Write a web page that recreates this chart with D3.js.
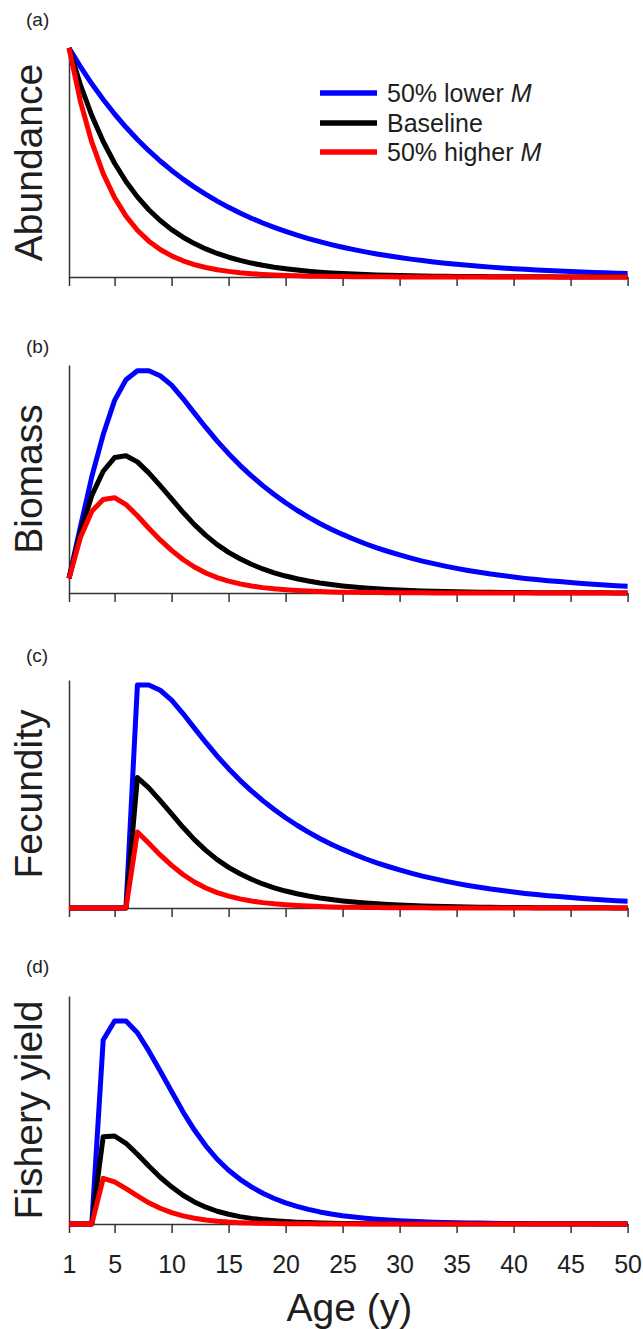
<!DOCTYPE html>
<html>
<head>
<meta charset="utf-8">
<script src="https://cdn.jsdelivr.net/npm/d3@7"></script>
<style>
  html, body { margin: 0; padding: 0; background: #fff; }
  svg { display: block; }
  text { font-family: "Liberation Sans", Arial, Helvetica, sans-serif; fill: #1e1e1e; }
</style>
</head>
<body>
<div id="chart"></div>
<script>
// ---------------- DATA ----------------
const ages = [1,2,3,4,5,6,7,8,9,10,11,12,13,14,15,16,17,18,19,20,21,22,23,24,25,26,27,28,29,30,31,32,33,34,35,36,37,38,39,40,41,42,43,44,45,46,47,48,49,50];
const xTicks = [1,5,10,15,20,25,30,35,40,45,50];
const seriesNames = ["50% lower ", "Baseline", "50% higher "];
const seriesColors = ["#0000ff", "#000000", "#ff0000"];

// (a) Abundance
const abundLow = [1,0.9185,0.8437,0.7749,0.7118,0.6538,0.6005,0.5516,0.5066,0.4653,0.4274,0.3926,0.3606,0.3312,0.3042,0.2794,0.2567,0.2357,0.2165,0.1989,0.1827,0.1678,0.1541,0.1415,0.1300,0.1194,0.1097,0.1007,0.0925,0.0850,0.0781,0.0717,0.0659,0.0605,0.0556,0.0510,0.0469,0.0431,0.0396,0.0363,0.0334,0.0307,0.0282,0.0259,0.0238,0.0218,0.0200,0.0184,0.0169,0.0155];
const abundBase = [1,0.8395,0.7047,0.5916,0.4966,0.4169,0.3499,0.2938,0.2466,0.2070,0.1738,0.1459,0.1225,0.1028,0.0863,0.0724,0.0608,0.0510,0.0429,0.0360,0.0302,0.0254,0.0213,0.0179,0.0150,0.0126,0.0106,0.0089,0.0074,0.0062,0.0052,0.0044,0.0037,0.0031,0.0026,0.0022,0.0018,0.0015,0.0013,0.0011,0.0009,0.0008,0.0006,0.0005,0.0004,0.0004,0.0003,0.0003,0.0002,0.0002];
const abundHigh = [1,0.7672,0.5886,0.4516,0.3465,0.2658,0.2039,0.1565,0.1200,0.0921,0.0707,0.0542,0.0416,0.0319,0.0245,0.0188,0.0144,0.0110,0.0085,0.0065,0.0050,0.0038,0.0029,0.0023,0.0017,0.0013,0.0010,0.0008,0.0006,0.0005,0.0004,0.0003,0.0002,0.0002,0.0001,0.0001,0.0001,0.0001,0,0,0,0,0,0,0,0,0,0,0,0];

// (b) Biomass
const biomassLow = [0.064,0.29,0.51,0.695,0.845,0.935,0.975,0.975,0.953,0.912,0.853,0.789,0.726,0.666,0.611,0.560,0.514,0.471,0.432,0.396,0.363,0.333,0.305,0.280,0.257,0.236,0.216,0.198,0.182,0.167,0.153,0.140,0.129,0.118,0.108,0.099,0.091,0.083,0.077,0.070,0.064,0.059,0.054,0.050,0.046,0.042,0.038,0.035,0.032,0.030];
const biomassBase = [0.064,0.266,0.428,0.534,0.594,0.602,0.575,0.527,0.471,0.413,0.354,0.300,0.253,0.212,0.178,0.150,0.126,0.1055,0.0886,0.0744,0.0624,0.0524,0.0440,0.0370,0.0311,0.0261,0.0219,0.0184,0.0155,0.0130,0.0109,0.0092,0.0077,0.0065,0.0054,0.0046,0.0038,0.0032,0.0027,0.0023,0.0019,0.0016,0.0013,0.0011,0.0009,0.0008,0.0007,0.0006,0.0005,0.0004];
const biomassHigh = [0.064,0.243,0.359,0.410,0.418,0.388,0.339,0.284,0.233,0.187,0.147,0.114,0.0878,0.0676,0.0520,0.0400,0.0307,0.0236,0.0182,0.0140,0.0107,0.0083,0.0063,0.0049,0.0038,0.0029,0.0022,0.0017,0.0013,0.0010,0.0008,0.0006,0.0005,0.0004,0.0003,0.0002,0.0002,0.0001,0.0001,0.0001,0,0,0,0,0,0,0,0,0,0];

// (c) Fecundity
const fecLow = [0,0,0,0,0,0,0.978,0.978,0.955,0.912,0.853,0.789,0.726,0.666,0.611,0.560,0.514,0.471,0.432,0.396,0.363,0.333,0.305,0.280,0.257,0.236,0.216,0.198,0.182,0.167,0.153,0.140,0.129,0.118,0.108,0.099,0.091,0.083,0.077,0.070,0.064,0.059,0.054,0.050,0.046,0.042,0.038,0.035,0.032,0.030];
const fecBase = [0,0,0,0,0,0,0.572,0.527,0.471,0.413,0.354,0.300,0.253,0.212,0.178,0.150,0.126,0.1055,0.0886,0.0744,0.0624,0.0524,0.0440,0.0370,0.0311,0.0261,0.0219,0.0184,0.0155,0.0130,0.0109,0.0092,0.0077,0.0065,0.0054,0.0046,0.0038,0.0032,0.0027,0.0023,0.0019,0.0016,0.0013,0.0011,0.0009,0.0008,0.0007,0.0006,0.0005,0.0004];
const fecHigh = [0,0,0,0,0,0,0.333,0.284,0.233,0.187,0.147,0.114,0.0878,0.0676,0.0520,0.0400,0.0307,0.0236,0.0182,0.0140,0.0107,0.0083,0.0063,0.0049,0.0038,0.0029,0.0022,0.0017,0.0013,0.0010,0.0008,0.0006,0.0005,0.0004,0.0003,0.0002,0.0002,0.0001,0.0001,0.0001,0,0,0,0,0,0,0,0,0,0];

// (d) Fishery yield
const yieldLow = [0,0,0,0.807,0.890,0.890,0.839,0.759,0.671,0.581,0.492,0.412,0.343,0.284,0.236,0.196,0.163,0.135,0.112,0.0928,0.0770,0.0639,0.0530,0.0440,0.0365,0.0304,0.0252,0.0209,0.0173,0.0144,0.0119,0.0099,0.0082,0.0068,0.0056,0.0047,0.0039,0.0032,0.0027,0.0022,0.0018,0.0015,0.0012,0.0010,0.0008,0.0007,0.0006,0.0005,0.0004,0.0003];
const yieldBase = [0,0,0,0.383,0.386,0.354,0.306,0.254,0.205,0.163,0.126,0.0968,0.0738,0.0560,0.0426,0.0324,0.0247,0.0187,0.0142,0.0108,0.0082,0.0062,0.0047,0.0036,0.0027,0.0021,0.0016,0.0012,0.0009,0.0007,0.0005,0.0004,0.0003,0.0002,0.0002,0.0001,0.0001,0.0001,0,0,0,0,0,0,0,0,0,0,0,0];
const yieldHigh = [0,0,0,0.200,0.185,0.155,0.123,0.093,0.069,0.050,0.0356,0.0250,0.0174,0.0121,0.0084,0.0059,0.0041,0.0028,0.0019,0.0013,0.0009,0.0006,0.0004,0.0003,0.0002,0.0001,0.0001,0,0,0,0,0,0,0,0,0,0,0,0,0,0,0,0,0,0,0,0,0,0,0];

const panelLetters = ["(a)", "(b)", "(c)", "(d)"];
const panelTitles = ["Abundance", "Biomass", "Fecundity", "Fishery yield"];
const panelData = [
  [abundLow, abundBase, abundHigh],
  [biomassLow, biomassBase, biomassHigh],
  [fecLow, fecBase, fecHigh],
  [yieldLow, yieldBase, yieldHigh]
];

// ---------------- LAYOUT ----------------
const W = 643, H = 1329;
const layout = [
  {top: 48,  bottom: 277,  letterY: 26},
  {top: 365, bottom: 593,  letterY: 353},
  {top: 680, bottom: 908,  letterY: 662},
  {top: 996, bottom: 1224, letterY: 973}
];

const svg = d3.select("#chart").append("svg")
  .attr("width", W).attr("height", H);

const x = d3.scaleLinear().domain([1, 50]).range([69, 627.6]);
const axisColor = "#333";

panelData.forEach((series, pi) => {
  const L = layout[pi];
  const y = d3.scaleLinear().domain([0, 1]).range([L.bottom, L.top]);
  const g = svg.append("g");

  // y axis line (no ticks)
  const yAxis = d3.axisLeft(y).tickValues([]).tickSizeOuter(0);
  g.append("g").attr("transform", `translate(${x(1)},0)`).call(yAxis)
    .call(s => s.select(".domain").attr("stroke", axisColor).attr("stroke-width", 1.5));

  // x axis
  const isLast = pi === panelData.length - 1;
  const xAxis = d3.axisBottom(x).tickValues(xTicks).tickSize(9).tickSizeOuter(0)
    .tickFormat(isLast ? d3.format("d") : () => "");
  const xg = g.append("g").attr("transform", `translate(0,${L.bottom})`).call(xAxis);
  xg.select(".domain").attr("stroke", axisColor).attr("stroke-width", 1.5);
  xg.selectAll(".tick line").attr("stroke", axisColor).attr("stroke-width", 1.5);
  xg.selectAll(".tick text")
    .attr("font-size", 25).attr("fill", "#222").attr("dy", 0).attr("y", 49)
    .style("font-family", '"Liberation Sans", Arial, Helvetica, sans-serif');

  // lines
  const line = d3.line()
    .x((d, i) => x(ages[i]))
    .y(d => y(d));
  series.forEach((vals, si) => {
    g.append("path")
      .datum(vals)
      .attr("d", line)
      .attr("fill", "none")
      .attr("stroke", seriesColors[si])
      .attr("stroke-width", 5)
      .attr("stroke-linejoin", "round");
  });

  // y label
  g.append("text")
    .attr("transform", `translate(42,${(L.top + L.bottom) / 2}) rotate(-90)`)
    .attr("text-anchor", "middle")
    .attr("font-size", 39)
    .text(panelTitles[pi]);

  // panel letter
  g.append("text")
    .attr("x", 26).attr("y", L.letterY)
    .attr("font-size", 19)
    .text(panelLetters[pi]);
});

// x axis title
svg.append("text")
  .attr("x", (x(1) + x(50)) / 2 + 1)
  .attr("y", 1321)
  .attr("text-anchor", "middle")
  .attr("font-size", 39)
  .text("Age (y)");

// legend
const legendRows = [93, 123, 152];
const leg = svg.append("g");
seriesNames.forEach((name, i) => {
  leg.append("line")
    .attr("x1", 320).attr("x2", 377)
    .attr("y1", legendRows[i]).attr("y2", legendRows[i])
    .attr("stroke", seriesColors[i]).attr("stroke-width", 5.5);
  const t = leg.append("text")
    .attr("x", 387).attr("y", legendRows[i] + 9)
    .attr("font-size", 25);
  t.append("tspan").text(name);
  if (i !== 1) t.append("tspan").attr("font-style", "italic").text("M");
});
</script>
</body>
</html>
